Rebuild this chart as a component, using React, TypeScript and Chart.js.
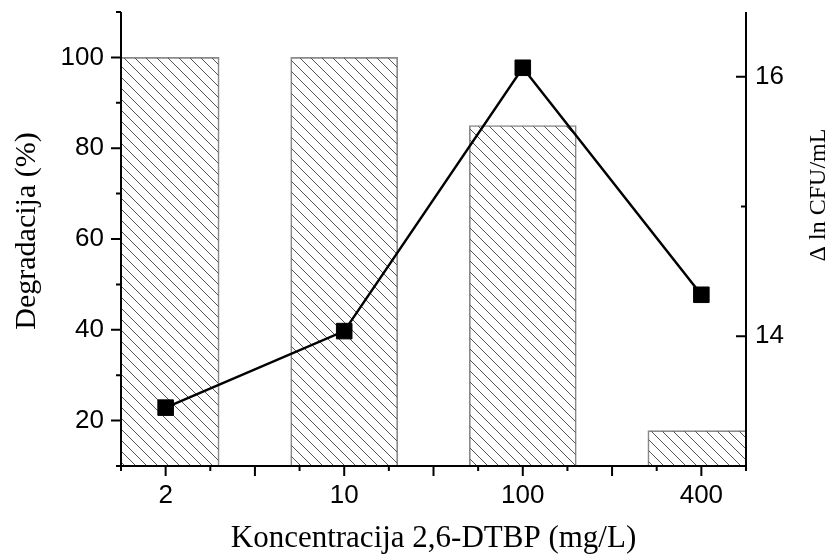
import React, { useEffect, useRef } from 'react';
import { Chart, registerables } from 'chart.js';

Chart.register(...registerables);

const CATEGORIES = ['2', '10', '100', '400'];
const DEGRADATION = [100, 100, 85, 17.8];
const DELTA_LN_CFU = [13.45, 14.04, 16.07, 14.32];
const LEFT_TICKS = [20, 40, 60, 80, 100];
const LEFT_MINOR = [10, 30, 50, 70, 90, 110];
const RIGHT_TICKS = [14, 16];
const RIGHT_MINOR = [13, 15];
const X_TITLE = 'Koncentracija 2,6-DTBP (mg/L)';
const Y_TITLE = 'Degradacija (%)';
const Y2_TITLE = 'Δ ln CFU/mL';

const SANS = '"Liberation Sans", Arial, sans-serif';
const SERIF = '"Liberation Serif", "Times New Roman", serif';

function makeHatch(): CanvasPattern {
  const s = 11;
  const c = document.createElement('canvas');
  c.width = s;
  c.height = s;
  const g = c.getContext('2d') as CanvasRenderingContext2D;
  g.strokeStyle = '#555';
  g.lineWidth = 1;
  g.beginPath();
  for (const k of [-s, 0, s]) {
    g.moveTo(k, 0);
    g.lineTo(k + s, s);
  }
  g.stroke();
  return g.createPattern(c, 'repeat') as CanvasPattern;
}

const decor = {
  id: 'decor',
  afterDatasetsDraw(chart: any) {
    const { ctx, chartArea: a, scales } = chart;
    const x = scales.x, y = scales.y, y2 = scales.y2;
    ctx.save();
    ctx.strokeStyle = '#000';
    ctx.lineWidth = 2;
    ctx.lineCap = 'butt';
    ctx.beginPath();
    ctx.moveTo(a.left, a.top);
    ctx.lineTo(a.left, a.bottom);
    ctx.moveTo(a.right, a.top);
    ctx.lineTo(a.right, a.bottom);
    ctx.moveTo(a.left - 1, a.bottom);
    ctx.lineTo(a.right + 1, a.bottom);
    const n = CATEGORIES.length;
    for (let i = 0; i < n; i++) {
      for (const d of [0, 0.5]) {
        if (i + d <= n - 1) {
          const px = x.getPixelForValue(i + d);
          ctx.moveTo(px, a.bottom);
          ctx.lineTo(px, a.bottom + 10);
        }
      }
    }
    for (let v = -0.25; v <= n - 0.75 + 1e-6; v += 0.5) {
      const px = x.getPixelForValue(v);
      ctx.moveTo(px, a.bottom);
      ctx.lineTo(px, a.bottom + 5);
    }
    for (const v of LEFT_TICKS) {
      const py = y.getPixelForValue(v);
      ctx.moveTo(a.left, py);
      ctx.lineTo(a.left - 10, py);
    }
    for (const v of LEFT_MINOR) {
      const py = y.getPixelForValue(v);
      ctx.moveTo(a.left, py);
      ctx.lineTo(a.left - 5, py);
    }
    for (const v of RIGHT_TICKS) {
      const py = y2.getPixelForValue(v);
      ctx.moveTo(a.right, py);
      ctx.lineTo(a.right - 10, py);
    }
    for (const v of RIGHT_MINOR) {
      const py = y2.getPixelForValue(v);
      ctx.moveTo(a.right, py);
      ctx.lineTo(a.right - 5, py);
    }
    ctx.stroke();

    ctx.fillStyle = '#000';
    ctx.textAlign = 'center';
    ctx.textBaseline = 'alphabetic';
    ctx.font = `31px ${SERIF}`;
    ctx.fillText(X_TITLE, (a.left + a.right) / 2, 547);

    ctx.save();
    ctx.font = `30px ${SERIF}`;
    ctx.translate(35, 231);
    ctx.rotate(-Math.PI / 2);
    ctx.fillText(Y_TITLE, 0, 0);
    ctx.restore();

    ctx.save();
    ctx.font = `24px ${SERIF}`;
    ctx.translate(825, 195);
    ctx.rotate(-Math.PI / 2);
    ctx.fillText(Y2_TITLE, 0, 0);
    ctx.restore();

    ctx.restore();
  },
};

function noPad(s: any) {
  s.paddingTop = 0;
  s.paddingBottom = 0;
  s.paddingLeft = 0;
  s.paddingRight = 0;
}

export default function App() {
  const ref = useRef<HTMLCanvasElement | null>(null);
  useEffect(() => {
    if (!ref.current) return;
    const hatch = makeHatch();
    const tickFont = { family: SANS, size: 26 };
    const chart = new Chart(ref.current, {
      type: 'bar',
      data: {
        datasets: [
          {
            type: 'line',
            data: DELTA_LN_CFU.map((v, i) => ({ x: i, y: v })),
            xAxisID: 'x',
            yAxisID: 'y2',
            borderColor: '#000',
            borderWidth: 2.5,
            pointStyle: 'rect',
            pointRadius: 11,
            pointBackgroundColor: '#000',
            pointBorderColor: '#000',
            pointBorderWidth: 1,
            tension: 0,
            order: 0,
          } as any,
          {
            type: 'bar',
            data: DEGRADATION.map((v, i) => ({ x: i, y: v })),
            xAxisID: 'x',
            yAxisID: 'y',
            backgroundColor: hatch as any,
            borderColor: '#8a8a8a',
            borderWidth: 1,
            barThickness: 107,
            order: 1,
          } as any,
        ],
      },
      options: {
        animation: false,
        responsive: false,
        events: [],
        plugins: { legend: { display: false }, tooltip: { enabled: false } },
        layout: { padding: { top: 12, left: 0, right: 0, bottom: 0 } },
        scales: {
          x: {
            type: 'linear',
            min: -0.25,
            max: 3.25,
            offset: false,
            grid: { display: false, drawTicks: false },
            border: { display: false },
            afterBuildTicks: (s: any) => {
              s.ticks = CATEGORIES.map((_, i) => ({ value: i }));
            },
            ticks: {
              callback: (v: any) => CATEGORIES[Math.round(Number(v))],
              autoSkip: false,
              maxRotation: 0,
              minRotation: 0,
              padding: 14,
              color: '#000',
              font: tickFont,
            },
            afterFit: (s: any) => {
              s.height = 90;
              noPad(s);
            },
          },
          y: {
            type: 'linear',
            position: 'left',
            min: 10,
            max: 110,
            grid: { display: false, drawTicks: false },
            border: { display: false },
            afterBuildTicks: (s: any) => {
              s.ticks = LEFT_TICKS.map((v) => ({ value: v }));
            },
            ticks: { padding: 17, color: '#000', font: tickFont },
            afterFit: (s: any) => {
              s.width = 121;
              noPad(s);
            },
          },
          y2: {
            type: 'linear',
            position: 'right',
            min: 13,
            max: 16.5,
            grid: { display: false, drawTicks: false },
            border: { display: false },
            afterBuildTicks: (s: any) => {
              s.ticks = RIGHT_TICKS.map((v) => ({ value: v }));
            },
            ticks: { padding: 9, color: '#000', font: tickFont },
            afterFit: (s: any) => {
              s.width = 82;
              noPad(s);
            },
          },
        },
      } as any,
      plugins: [decor],
    });
    return () => chart.destroy();
  }, []);
  return (
    <div style={{ position: 'absolute', left: 0, top: 0, width: 828, height: 556, background: '#fff' }}>
      <canvas ref={ref} width={828} height={556} style={{ display: 'block' }} />
    </div>
  );
}
